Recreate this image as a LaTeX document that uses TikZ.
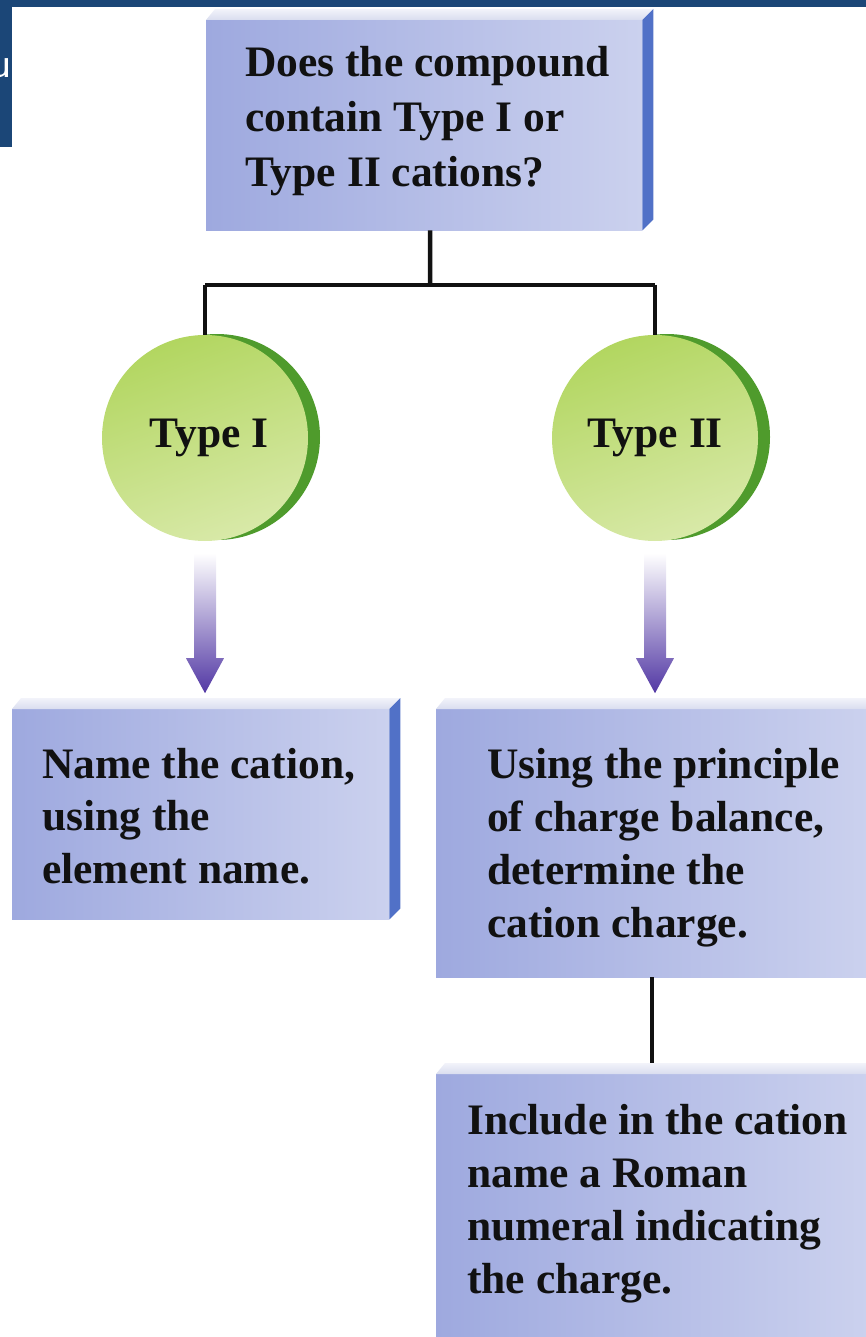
\documentclass[tikz,border=0pt]{standalone}
\usepackage{fontspec}
\setmainfont{Liberation Serif}
\definecolor{barC}{HTML}{1B4677}
\definecolor{boxL}{HTML}{9EA9DF}
\definecolor{boxR}{HTML}{CBD1EE}
\definecolor{topT}{HTML}{F2F3FA}
\definecolor{topB}{HTML}{D9DDEF}
\definecolor{sideC}{HTML}{5171C7}
\definecolor{greenT}{HTML}{B2D660}
\definecolor{greenB}{HTML}{D8E9A8}
\definecolor{greenD}{HTML}{4F9B2C}
\definecolor{arrowC}{HTML}{5238A4}
\definecolor{textC}{HTML}{111111}
\tikzset{
  boxfront/.style={rectangle, inner sep=0, anchor=north west, left color=boxL, right color=boxR},
  boxtop/.style={top color=topT, bottom color=topB},
  boxside/.style={fill=sideC},
  boxtext/.style={inner sep=0, anchor=north west, align=left, text=textC,
    font=\fontsize{43.5}{53}\selectfont\bfseries},
  ball/.style={circle, minimum size=206, inner sep=0, top color=greenT, bottom color=greenB,
    shading angle=20, text=textC, font=\fontsize{43.5}{53}\selectfont\bfseries},
  ballshadow/.style={fill=greenD},
  conn/.style={line width=4.5, draw=textC},
  fatarrow/.style={top color=white, bottom color=arrowC}
}
\begin{document}
\begin{tikzpicture}[x=1pt,y=-1pt]
\useasboundingbox (0,0) rectangle (866,1337);
\clip (0,0) rectangle (866,1337);

% coordinates for the branching connector
\coordinate (jc) at (430,285);

% --- boxes (front faces) ---
\node[boxfront, minimum width=436, minimum height=210] (top) at (206,20) {};
\node[boxfront, minimum width=377, minimum height=210] (bl) at (12,709) {};
\node[boxfront, minimum width=432, minimum height=268] (br) at (436,709) {};
\node[boxfront, minimum width=432, minimum height=280] (bn) at (436,1074) {};

% --- connectors ---
\draw[conn] ([xshift=6pt]top.south) -- (jc);
\coordinate (jl) at (205,285);
\coordinate (jr) at (655,285);
\draw[conn] (jl) -- (jr);
\draw[conn] (br.south) -- (bn.north);

% --- top faces and sides of the boxes ---
\foreach \b in {top,bl,br,bn}{
  \shade[boxtop] (\b.north west) -- ++(9,-11) -- ([shift={(11,-11)}]\b.north east) -- (\b.north east) -- cycle;
  \fill[boxside] (\b.north east) -- ++(11,-11) -- ([shift={(11,-11)}]\b.south east) -- (\b.south east) -- cycle;
}

% --- circles ---
\fill[ballshadow] (217,437) circle (103);
\fill[ballshadow] (667,437) circle (103);
\node[ball] (t1) at (205,438) {\hspace*{8pt}\raisebox{-5pt}{Type I}};
\node[ball] (t2) at (655,438) {\raisebox{-5pt}{Type II}};
\draw[conn] (jl) -- (t1.north);
\draw[conn] (jr) -- (t2.north);

% --- fat arrows from circles to boxes ---
\foreach \c in {t1,t2}{
  \shade[fatarrow] ([shift={(-11,12)}]\c.south) -- ++(22,0) -- ++(0,105) -- ++(8,0)
    -- ++(-19,35) -- ++(-19,-35) -- ++(8,0) -- cycle;
}

% --- texts ---
\node[boxtext, font=\fontsize{43.5}{55}\selectfont\bfseries] (topt) at (245,46) {Does the compound\\contain Type I or\\Type II cations?};
\node[boxtext, font=\fontsize{43.5}{52.5}\selectfont\bfseries] (blt) at (42,748) {Name the cation,\\using the\\element name.};
\node[boxtext] (brt) at (487,748) {Using the principle\\of charge balance,\\determine the\\cation charge.};
\node[boxtext] (bnt) at (467,1104) {Include in the cation\\name a Roman\\numeral indicating\\the charge.};

% --- dark header fragments ---
\fill[barC] (0,0) rectangle (866,7);
\fill[barC] (0,0) rectangle (12,147);
\node[inner sep=0, anchor=base east, text=white, font=\sffamily\fontsize{44}{48}\selectfont] (hdr) at (12,78) {u};
\end{tikzpicture}
\end{document}
